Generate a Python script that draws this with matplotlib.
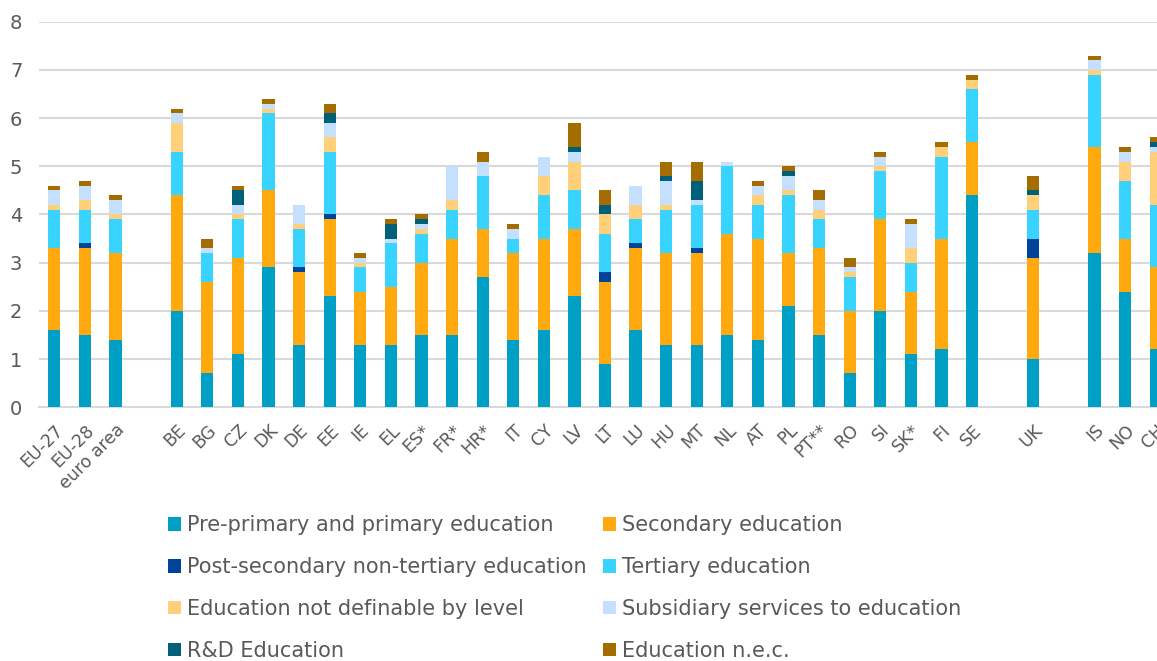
import numpy as np
import matplotlib
matplotlib.use("Agg")
import matplotlib.pyplot as plt

# categories (empty strings are the gaps between groups)
countries = ['EU-27', 'EU-28', 'euro area', '',
             'BE', 'BG', 'CZ', 'DK', 'DE', 'EE', 'IE', 'EL', 'ES*', 'FR*', 'HR*',
             'IT', 'CY', 'LV', 'LT', 'LU', 'HU', 'MT', 'NL', 'AT', 'PL', 'PT**',
             'RO', 'SI', 'SK*', 'FI', 'SE', '', 'UK', '', 'IS', 'NO', 'CH']

# % of GDP by function
pre_primary = [1.6, 1.5, 1.4, 0, 2.0, 0.7, 1.1, 2.9, 1.3, 2.3, 1.3, 1.3, 1.5, 1.5, 2.7,
               1.4, 1.6, 2.3, 0.9, 1.6, 1.3, 1.3, 1.5, 1.4, 2.1, 1.5,
               0.7, 2.0, 1.1, 1.2, 4.4, 0, 1.0, 0, 3.2, 2.4, 1.2]
secondary = [1.7, 1.8, 1.8, 0, 2.4, 1.9, 2.0, 1.6, 1.5, 1.6, 1.1, 1.2, 1.5, 2.0, 1.0,
             1.8, 1.9, 1.4, 1.7, 1.7, 1.9, 1.9, 2.1, 2.1, 1.1, 1.8,
             1.3, 1.9, 1.3, 2.3, 1.1, 0, 2.1, 0, 2.2, 1.1, 1.7]
post_secondary = [0, 0.1, 0, 0, 0, 0, 0, 0, 0.1, 0.1, 0, 0, 0, 0, 0,
                  0, 0, 0, 0.2, 0.1, 0, 0.1, 0, 0, 0, 0,
                  0, 0, 0, 0, 0, 0, 0.4, 0, 0, 0, 0]
tertiary = [0.8, 0.7, 0.7, 0, 0.9, 0.6, 0.8, 1.6, 0.8, 1.3, 0.5, 0.9, 0.6, 0.6, 1.1,
            0.3, 0.9, 0.8, 0.8, 0.5, 0.9, 0.9, 1.4, 0.7, 1.2, 0.6,
            0.7, 1.0, 0.6, 1.7, 1.1, 0, 0.6, 0, 1.5, 1.2, 1.3]
not_definable = [0.1, 0.2, 0.1, 0, 0.6, 0, 0.1, 0.1, 0.1, 0.3, 0.1, 0, 0.1, 0.2, 0,
                 0, 0.4, 0.6, 0.4, 0.3, 0.1, 0, 0, 0.2, 0.1, 0.2,
                 0.1, 0.1, 0.3, 0.2, 0.2, 0, 0.3, 0, 0.1, 0.4, 1.1]
subsidiary = [0.3, 0.3, 0.3, 0, 0.2, 0.1, 0.2, 0.1, 0.4, 0.3, 0.1, 0.1, 0.1, 0.7, 0.3,
              0.2, 0.4, 0.2, 0, 0.4, 0.5, 0.1, 0.1, 0.2, 0.3, 0.2,
              0.1, 0.2, 0.5, 0, 0, 0, 0, 0, 0.2, 0.2, 0.1]
rd = [0, 0, 0, 0, 0, 0, 0.3, 0, 0, 0.2, 0, 0.3, 0.1, 0, 0,
      0, 0, 0.1, 0.2, 0, 0.1, 0.4, 0, 0, 0.1, 0,
      0, 0, 0, 0, 0, 0, 0.1, 0, 0, 0, 0.1]
nec = [0.1, 0.1, 0.1, 0, 0.1, 0.2, 0.1, 0.1, 0, 0.2, 0.1, 0.1, 0.1, 0, 0.2,
       0.1, 0, 0.5, 0.3, 0, 0.3, 0.4, 0, 0.1, 0.1, 0.2,
       0.2, 0.1, 0.1, 0.1, 0.1, 0, 0.3, 0, 0.1, 0.1, 0.1]

series = [pre_primary, secondary, post_secondary, tertiary,
          not_definable, subsidiary, rd, nec]
labels = ['Pre-primary and primary education', 'Secondary education',
          'Post-secondary non-tertiary education', 'Tertiary education',
          'Education not definable by level', 'Subsidiary services to education',
          'R&D Education', 'Education n.e.c.']
colors = ['#009FC6', '#FFA90F', '#00439A', '#38D4FF',
          '#FFCF7A', '#C5DFFF', '#00607A', '#A56C00']

grey = '#595959'
fig = plt.figure(figsize=(11.57, 6.61), dpi=100)
ax = fig.add_axes([39/1157, 0.384, 1132/1157, 0.583])

x = np.arange(len(countries))
bottom = np.zeros(len(countries))
handles = []
for vals, lab, col in zip(series, labels, colors):
    vals = np.array(vals)
    b = ax.bar(x, vals, 0.4, bottom=bottom, color=col, label=lab,
               linewidth=0, zorder=3)
    handles.append(b)
    bottom += vals

ax.set_xlim(-0.5, len(countries) - 0.5)
ax.set_ylim(0, 8)
ax.set_yticks(range(0, 9))
ax.yaxis.grid(True, color='#D9D9D9', linewidth=1.5, zorder=0)
for s in ['top', 'right', 'left']:
    ax.spines[s].set_visible(False)
ax.spines['bottom'].set_color('#D9D9D9')
ax.spines['bottom'].set_linewidth(1.5)
ax.tick_params(axis='both', length=0, colors=grey)
ax.tick_params(axis='y', labelsize=14, pad=12)
ax.set_xticks(x)
ax.set_xticklabels(countries, rotation=45, ha='right', rotation_mode='anchor',
                   fontsize=12.5, color=grey)
ax.tick_params(axis='x', pad=10)

order = [0, 2, 4, 6, 1, 3, 5, 7]
fig.legend([handles[i] for i in order], [labels[i] for i in order],
           ncol=2, loc='upper left', bbox_to_anchor=(158/1157, 1 - 505/661),
           frameon=False, fontsize=15, labelcolor=grey,
           handlelength=0.6, handleheight=0.6, handletextpad=0.3,
           columnspacing=0.8, labelspacing=1.05, borderpad=0)

fig.savefig('out.png', dpi=100)
